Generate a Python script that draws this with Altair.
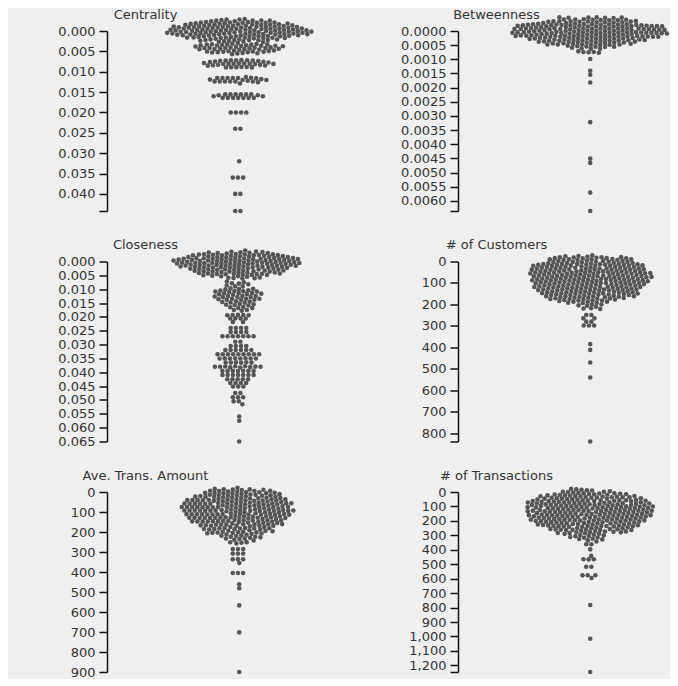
import numpy as np
import pandas as pd
import altair as alt

# ---------------- data (value, number of dots) ----------------
cent_values = [0.0, 0.004, 0.008, 0.012, 0.016, 0.020, 0.024, 0.032, 0.036, 0.040, 0.0442]
cent_counts = [143, 48, 32, 21, 17, 4, 2, 1, 3, 2, 2]
cent_ticks = [0.000, 0.005, 0.010, 0.015, 0.020, 0.025, 0.030, 0.035, 0.040]

betw_values = [0.0, 0.00005, 0.0001, 0.00015, 0.0002, 0.0003, 0.0004, 0.00055, 0.00072,
               0.00099, 0.00143, 0.00152, 0.00182, 0.00322, 0.00451, 0.00466, 0.00571, 0.00636]
betw_counts = [124, 33, 19, 11, 8, 4, 2, 1, 5, 1, 1, 1, 1, 1, 1, 1, 1, 1]
betw_ticks = [0.0000, 0.0005, 0.0010, 0.0015, 0.0020, 0.0025, 0.0030, 0.0035, 0.0040,
              0.0045, 0.0050, 0.0055, 0.0060]

clos_values = [0.0, 0.0005, 0.001, 0.0015, 0.002, 0.003, 0.004, 0.007, 0.008, 0.009,
               0.010, 0.011, 0.0115, 0.0125, 0.0135, 0.0145, 0.0155, 0.0165, 0.0175,
               0.0195, 0.0205, 0.0215, 0.024, 0.0255, 0.027, 0.029, 0.0305, 0.032,
               0.0335, 0.035, 0.0365, 0.038, 0.0395, 0.041, 0.0425, 0.044, 0.045,
               0.0475, 0.049, 0.0505, 0.0515, 0.056, 0.0575, 0.065]
clos_counts = [59, 27, 21, 13, 11, 10, 8, 2, 3, 3,
               4, 7, 6, 8, 7, 5, 5, 4, 3,
               5, 4, 2, 4, 4, 7, 2, 4, 6,
               9, 8, 6, 10, 7, 7, 5, 4, 3,
               2, 3, 2, 1, 1, 1, 1]
clos_ticks = [0.000, 0.005, 0.010, 0.015, 0.020, 0.025, 0.030, 0.035, 0.040, 0.045,
              0.050, 0.055, 0.060, 0.065]

cust_values = [8, 24, 40, 56, 72, 88, 104, 120, 136, 152, 168, 185, 200, 215, 250, 265,
               280, 298, 385, 412, 471, 541, 839]
cust_counts = [15, 28, 30, 32, 33, 31, 28, 24, 20, 15, 9, 3, 3, 3, 2, 2, 2, 3, 1, 1, 1, 1, 1]
cust_ticks = [0, 100, 200, 300, 400, 500, 600, 700, 800]

ave_values = [8, 25, 42, 59, 76, 93, 110, 127, 144, 161, 178, 195, 212, 229, 250, 285,
              308, 336, 355, 405, 463, 480, 567, 702, 900]
ave_counts = [9, 19, 24, 25, 26, 26, 24, 21, 18, 14, 12, 10, 7, 5, 4, 3, 3, 3, 1, 3,
              1, 1, 1, 1, 1]
ave_ticks = [0, 100, 200, 300, 400, 500, 600, 700, 800, 900]

trans_values = [55, 80, 105, 130, 155, 180, 205, 228, 250, 270, 295, 320, 362, 397, 443,
                466, 517, 577, 593, 782, 1016, 1246]
trans_counts = [21, 38, 43, 43, 36, 29, 20, 13, 9, 5, 6, 4, 2, 1, 1, 3, 2, 3, 1, 1, 1, 1]
trans_ticks = [0, 100, 200, 300, 400, 500, 600, 700, 800, 900, 1000, 1100, 1200]

# ---------------- layout parameters ----------------
H = 180          # plot height
W = 205          # plot width
CX = 131         # swarm centre, px right of the axis
XSTRETCH = 1.3
R = 2.0          # collision radius
SX, SY, CS = 0.02, 0.8, 0.5


def swarm(vals, counts, dmax):
    """Deterministic force-directed beeswarm layout (d3-force style)."""
    v, rank = [], []
    for val, c in zip(vals, counts):
        v += [val] * c
        rank += list(range(c))
    v = np.array(v, float)
    rank = np.array(rank, float)
    ty = v / dmax * H
    n = len(v)
    ga = np.pi * (3 - np.sqrt(5))
    rad = np.sqrt(0.5 + rank)
    x = 5 * rad * np.cos(rank * ga)
    y = ty + 1.0 * rad * np.sin(rank * ga)
    vx = np.zeros(n)
    vy = np.zeros(n)
    alpha = 1.0
    decay = 1 - 0.001 ** (1 / 300)
    eye = np.eye(n, dtype=bool)
    for _ in range(300):
        alpha += (0 - alpha) * decay
        vx += (0 - x) * SX * alpha
        vy += (ty - y) * SY * alpha
        for _k in range(3):
            px = x + vx
            py = y + vy
            dx = px[:, None] - px[None, :]
            dy = py[:, None] - py[None, :]
            d2 = dx * dx + dy * dy
            m = (d2 < (2 * R) ** 2) & ~eye
            d = np.sqrt(np.where(m, d2, 1.0))
            d = np.maximum(d, 1e-3)
            l = np.where(m, (2 * R - d) / d * 0.5 * CS, 0.0)
            vx += (dx * l).sum(1)
            vy += (dy * l).sum(1)
        vx *= 0.6
        vy *= 0.6
        x += vx
        y += vy
    return pd.DataFrame({"x": x * XSTRETCH, "y": y / H * dmax})


def panel(title, vals, counts, ticks, fmt):
    dmax = max(vals)
    df = swarm(vals, counts, dmax)
    tick_vals = list(ticks)
    axis_kw = {}
    if dmax > ticks[-1] * 1.0001:
        tick_vals.append(dmax)
        axis_kw["labelExpr"] = f"datum.value == {dmax!r} ? '' : datum.label"
    axis = alt.Axis(
        values=tick_vals, format=fmt, title=title, titleAngle=0, titleAlign="center",
        titleBaseline="middle", titleX=38, titleY=-17, titleFont="DejaVu Sans",
        titleFontSize=13, titleFontWeight="normal", titleColor="#333",
        labelFont="DejaVu Sans", labelFontSize=13, labelColor="#333", labelPadding=4,
        tickSize=8, tickColor="#111", tickWidth=1.5, domainColor="#111", domainWidth=1.5,
        grid=False, labelOverlap=False, labelFlush=False, labelBound=False, **axis_kw)
    return alt.Chart(df).mark_circle(size=21, color="#555", opacity=1).encode(
        x=alt.X("x:Q", scale=alt.Scale(domain=[-CX, W - CX]), axis=None),
        y=alt.Y("y:Q", scale=alt.Scale(domain=[0, dmax], reverse=True, nice=False, zero=False),
                axis=axis),
    ).properties(width=W, height=H)


charts = [
    panel("Centrality", cent_values, cent_counts, cent_ticks, ".3f"),
    panel("Betweenness", betw_values, betw_counts, betw_ticks, ".4f"),
    panel("Closeness", clos_values, clos_counts, clos_ticks, ".3f"),
    panel("# of Customers", cust_values, cust_counts, cust_ticks, ",d"),
    panel("Ave. Trans. Amount", ave_values, ave_counts, ave_ticks, ",d"),
    panel("# of Transactions", trans_values, trans_counts, trans_ticks, ",d"),
]

chart = alt.concat(*charts, columns=2, spacing={"row": 50.5, "column": 351 - W},
                   bounds="flush").properties(
    background="#efefef",
    padding={"left": 49, "top": 0, "right": 0, "bottom": 0},
).configure_view(stroke=None)

chart.save("out.html", embed_options={"renderer": "svg", "actions": False})
